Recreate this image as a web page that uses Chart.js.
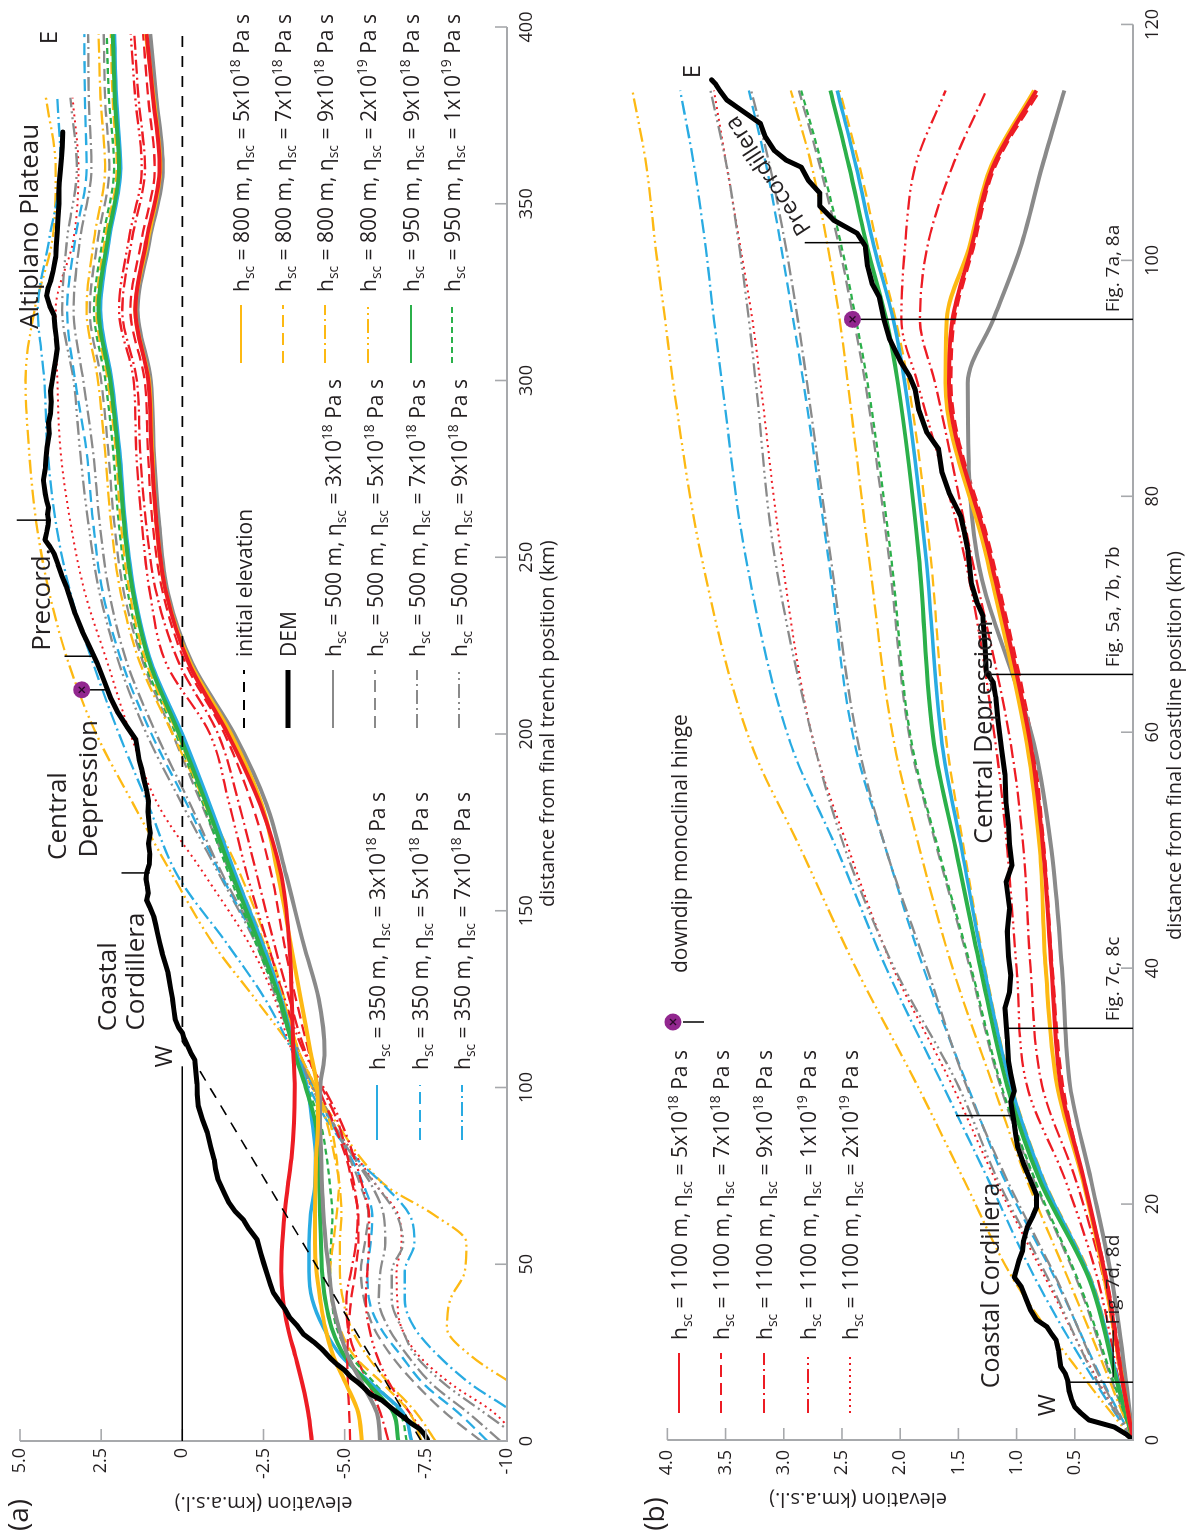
<!DOCTYPE html>
<html>
<head>
<meta charset="utf-8">
<script src="https://cdn.jsdelivr.net/npm/chart.js@4.4.1/dist/chart.umd.min.js"></script>
<style>
  html, body { margin: 0; padding: 0; background: #fff; }
  body { width: 1203px; height: 1537px; overflow: hidden; position: relative; }
  /* the figure is laid out landscape and turned a quarter turn */
  #sheet { position: absolute; left: 0; top: 0; width: 1537px; height: 1203px;
           transform-origin: 0 0; transform: translate(0px, 1537px) rotate(-90deg); }
  #pa { position: absolute; left: 0; top: 0; }
  #pb { position: absolute; left: 0; top: 600px; }
</style>
</head>
<body>
<div id="sheet">
  <canvas id="pa" width="1537" height="600"></canvas>
  <canvas id="pb" width="1537" height="603"></canvas>
</div>
<script>
// ================= panel (a): distance from final trench position =================
const distA = [0, 8, 16, 24, 32, 40, 48, 56, 64, 72, 80, 90, 100, 110, 125, 140, 160, 180, 200, 220, 240, 260, 280, 300, 320, 340, 360, 380, 398];

const a_1100_5e18 = [-3.99, -3.88, -3.70, -3.48, -3.25, -3.10, -3.05, -3.08, -3.15, -3.25, -3.36, -3.44, -3.46, -3.42, -3.37, -3.30, -3.05, -2.40, -1.40, -0.20, 0.50, 0.80, 0.95, 1.05, 1.45, 1.10, 0.70, 0.90, 1.10];
const a_1100_7e18 = [-5.17, -5.14, -5.10, -5.08, -5.12, -5.20, -5.33, -5.42, -5.42, -5.25, -5.05, -4.65, -4.20, -3.90, -3.50, -3.15, -2.75, -2.15, -1.30, -0.10, 0.60, 0.92, 1.06, 1.16, 1.60, 1.25, 0.85, 1.05, 1.21];
const a_1100_9e18 = [-6.35, -6.10, -5.75, -5.35, -5.10, -5.05, -5.20, -5.35, -5.40, -5.30, -5.10, -4.80, -4.30, -3.80, -3.30, -2.85, -2.30, -1.75, -1.10, 0.10, 0.80, 1.12, 1.30, 1.40, 1.85, 1.55, 1.15, 1.35, 1.48];
const a_1100_1e19 = [-7.60, -7.00, -6.40, -6.00, -5.75, -5.65, -5.70, -5.75, -5.75, -5.55, -5.30, -4.90, -4.35, -3.75, -3.15, -2.65, -2.00, -1.45, -0.85, 0.50, 1.00, 1.25, 1.42, 1.50, 1.95, 1.65, 1.25, 1.45, 1.59];
const a_1100_2e19 = [-10.4, -9.60, -8.30, -7.30, -6.75, -6.62, -6.60, -6.75, -6.65, -6.00, -5.40, -4.60, -4.00, -3.40, -2.85, -2.10, -0.70, 0.75, 1.60, 2.30, 3.00, 3.45, 3.75, 3.85, 3.90, 3.35, 3.20, 3.38, null];
const a_500_3e18 = [-6.09, -5.99, -5.55, -5.10, -4.82, -4.62, -4.52, -4.42, -4.35, -4.30, -4.28, -4.24, -4.25, -4.38, -4.20, -3.75, -3.20, -2.60, -1.60, -0.30, 0.45, 0.72, 0.88, 0.97, 1.38, 1.00, 0.60, 0.80, 0.99];
const a_500_5e18 = [-9.20, -8.10, -7.20, -6.45, -5.90, -5.60, -5.50, -5.62, -5.73, -5.50, -5.15, -4.65, -4.10, -3.60, -3.05, -2.35, -1.50, -0.60, 0.30, 1.20, 1.80, 2.10, 2.28, 2.50, 2.85, 2.60, 2.25, 2.38, 2.42];
const a_500_7e18 = [-9.80, -8.80, -7.70, -6.95, -6.35, -6.05, -6.10, -6.25, -6.20, -5.85, -5.30, -4.65, -4.05, -3.55, -3.00, -2.40, -1.25, -0.25, 0.80, 1.70, 2.25, 2.55, 2.75, 3.05, 3.35, 3.15, 2.80, 2.88, 2.90];
const a_500_9e18 = [-10.5, -9.30, -8.10, -7.20, -6.75, -6.45, -6.45, -6.80, -6.60, -6.00, -5.30, -4.60, -4.00, -3.50, -2.90, -2.30, -1.15, 0.00, 1.10, 1.95, 2.55, 2.90, 3.15, 3.35, 3.70, 3.55, 3.25, 3.45, null];
const a_350_3e18 = [-7.06, -6.80, -5.85, -4.90, -4.35, -4.00, -3.90, -3.90, -3.95, -4.08, -4.10, -4.00, -3.85, -3.50, -3.05, -2.50, -1.65, -0.85, 0.00, 0.95, 1.48, 1.76, 1.93, 2.17, 2.52, 2.25, 1.90, 2.03, 2.09];
const a_350_5e18 = [-9.40, -8.50, -7.45, -6.75, -6.10, -5.75, -5.70, -5.80, -5.85, -5.60, -5.20, -4.60, -4.05, -3.55, -3.00, -2.35, -1.20, -0.15, 0.95, 1.85, 2.45, 2.75, 2.95, 3.30, 3.55, 3.30, 2.95, 3.00, 3.02];
const a_350_7e18 = [-11.0, -10.2, -8.90, -7.90, -7.15, -6.85, -6.85, -7.15, -7.00, -6.25, -5.35, -4.50, -3.90, -3.40, -2.55, -1.43, 0.15, 1.05, 1.95, 2.75, 3.45, 3.90, 4.15, 4.25, 4.45, 4.10, 3.75, 3.85, null];
const a_800_5e18 = [-5.53, -5.42, -5.05, -4.65, -4.40, -4.25, -4.13, -4.09, -4.09, -4.10, -4.12, -4.18, -4.15, -3.95, -3.65, -3.35, -2.95, -2.45, -1.50, -0.25, 0.50, 0.80, 0.93, 1.03, 1.45, 1.06, 0.68, 0.88, 1.12];
const a_800_7e18 = [-7.37, -7.00, -6.20, -5.30, -4.85, -4.60, -4.55, -4.65, -4.75, -4.82, -4.75, -4.55, -4.10, -3.60, -3.10, -2.55, -1.65, -0.70, 0.15, 1.10, 1.62, 1.90, 2.05, 2.30, 2.65, 2.38, 2.02, 2.15, 2.20];
const a_800_9e18 = [-7.80, -7.20, -6.40, -5.70, -5.20, -4.95, -4.85, -4.85, -4.90, -4.85, -4.70, -4.45, -4.10, -3.60, -3.15, -2.65, -1.80, -0.75, 0.30, 1.30, 1.90, 2.20, 2.38, 2.60, 2.95, 2.72, 2.38, 2.52, 2.58];
const a_800_2e19 = [-12.0, -11.5, -10.2, -8.90, -8.15, -8.25, -8.70, -8.75, -7.75, -6.30, -5.50, -4.75, -4.00, -3.45, -2.25, -1.00, 0.30, 1.50, 2.65, 3.50, 4.10, 4.50, 4.72, 4.83, 4.55, 4.00, 3.90, 4.20, null];
const a_950_9e18 = [-6.65, -6.50, -5.75, -5.00, -4.60, -4.40, -4.30, -4.27, -4.24, -4.22, -4.19, -4.10, -3.80, -3.45, -3.00, -2.40, -1.55, -0.75, 0.10, 1.00, 1.52, 1.80, 1.98, 2.22, 2.58, 2.30, 1.95, 2.08, 2.14];
const a_950_1e19 = [-6.91, -6.70, -5.95, -5.20, -4.75, -4.60, -4.55, -4.58, -4.62, -4.55, -4.45, -4.25, -3.85, -3.45, -2.95, -2.30, -1.45, -0.65, 0.20, 1.15, 1.68, 1.96, 2.13, 2.37, 2.72, 2.45, 2.10, 2.26, 2.33];

const demDistA = [0.5, 2, 3.5, 5, 6.7, 8.5, 10, 11.5, 13.3, 15, 16.5, 18, 20, 21.7, 23.5, 26, 28, 30.2, 32.5, 35, 37.5, 40, 42, 44.3, 47, 50.5, 53, 57, 60, 62.7, 65, 67.5, 70, 74, 77, 79.6, 83, 87.2, 91, 94.8, 98, 101, 104, 107.9, 110, 112, 114, 115.5, 117, 119.2, 122, 125, 128, 132.4, 135, 138, 141, 143.8, 146, 148.4, 151, 153, 155, 157, 159, 160.7, 163, 166, 169, 172, 175, 178, 181, 184, 187, 190, 192.7, 195, 198.4, 202, 206, 210, 215.3, 220, 224.7, 229, 234, 238, 241.7, 245, 248, 251, 253, 254.9, 257, 259, 260.5, 262, 264, 266, 268, 271.8, 275, 278, 281, 285, 288, 290.7, 294, 297, 299.7, 303, 306, 309, 312, 315, 318.5, 321, 324, 326, 328, 331, 335, 338, 342, 346, 350, 353, 356, 359, 363, 366, 368, 370.3];
const demElevA = [-7.55, -7.45, -7.30, -7.05, -6.81, -6.55, -6.35, -6.15, -5.78, -5.60, -5.42, -5.20, -5.00, -4.76, -4.55, -4.30, -4.05, -3.73, -3.55, -3.30, -3.15, -2.95, -2.80, -2.71, -2.62, -2.50, -2.42, -2.30, -2.05, -1.87, -1.62, -1.43, -1.30, -1.10, -1.02, -0.98, -0.88, -0.77, -0.62, -0.49, -0.46, -0.45, -0.42, -0.38, -0.25, -0.15, -0.05, 0.00, 0.12, 0.22, 0.26, 0.30, 0.36, 0.44, 0.52, 0.62, 0.70, 0.77, 0.82, 0.88, 1.00, 1.10, 1.05, 1.08, 1.12, 1.10, 1.02, 1.00, 1.04, 0.99, 1.03, 1.06, 1.04, 1.10, 1.18, 1.25, 1.33, 1.37, 1.43, 1.70, 1.98, 2.20, 2.42, 2.62, 2.86, 3.08, 3.30, 3.44, 3.57, 3.72, 3.83, 3.95, 4.08, 4.23, 4.18, 4.14, 4.12, 4.15, 4.12, 4.18, 4.22, 4.28, 4.22, 4.20, 4.17, 4.10, 4.12, 4.06, 4.04, 4.06, 4.01, 3.95, 3.90, 3.85, 3.88, 3.92, 3.95, 4.08, 4.18, 4.14, 4.06, 3.98, 3.90, 3.88, 3.85, 3.83, 3.80, 3.81, 3.79, 3.76, 3.72, 3.70, 3.69, 3.68];

const initDistA = [0, 113, 400];
const initElevA = [-7.36, 0, 0];

const elevTicksA = [5, 2.5, 0, -2.5, -5, -7.5, -10];
const distTicksA = [0, 50, 100, 150, 200, 250, 300, 350, 400];

// ================= panel (b): distance from final coastline position =================
const distB = [0, 5, 13.5, 22, 30, 40, 50, 59, 75, 89.6, 95, 101, 108, 114.4];

const b_800_2e19 = [0, 0.40, 1.02, 1.45, 1.85, 2.38, 2.85, 3.28, 3.71, 3.95, 4.02, 4.10, 4.18, 4.30];
const b_350_7e18 = [0, 0.33, 0.83, 1.24, 1.63, 2.12, 2.54, 2.94, 3.33, 3.53, 3.60, 3.67, 3.77, 3.89];
const b_1100_2e19 = [0, 0.30, 0.74, 1.18, 1.55, 2.06, 2.44, 2.74, 3.02, 3.20, 3.27, 3.37, 3.49, 3.60];
const b_500_9e18 = [0, 0.31, 0.72, 1.16, 1.50, 2.05, 2.47, 2.74, 3.08, 3.24, 3.30, 3.38, 3.49, 3.63];
const b_350_5e18 = [0, 0.26, 0.66, 1.10, 1.42, 1.80, 2.12, 2.39, 2.62, 2.83, 2.92, 3.02, 3.15, 3.30];
const b_500_7e18 = [0, 0.27, 0.65, 1.08, 1.43, 1.77, 2.12, 2.36, 2.60, 2.80, 2.88, 2.98, 3.12, 3.28];
const b_800_9e18 = [0, 0.20, 0.55, 0.91, 1.20, 1.55, 1.83, 2.05, 2.27, 2.45, 2.52, 2.62, 2.76, 2.94];
const b_950_1e19 = [0, 0.17, 0.47, 0.84, 1.13, 1.39, 1.67, 1.90, 2.08, 2.28, 2.38, 2.50, 2.67, 2.85];
const b_500_5e18 = [0, 0.18, 0.48, 0.85, 1.14, 1.40, 1.68, 1.91, 2.10, 2.30, 2.40, 2.52, 2.69, 2.87];
const b_950_9e18 = [0, 0.14, 0.37, 0.80, 1.08, 1.31, 1.52, 1.71, 1.84, 2.02, 2.12, 2.28, 2.44, 2.60];
const b_350_3e18 = [0, 0.13, 0.36, 0.77, 1.05, 1.28, 1.47, 1.64, 1.78, 1.96, 2.06, 2.22, 2.38, 2.54];
const b_800_7e18 = [0, 0.13, 0.35, 0.76, 1.04, 1.27, 1.45, 1.60, 1.74, 1.93, 2.04, 2.19, 2.35, 2.52];
const b_1100_1e19 = [0, 0.12, 0.30, 0.58, 0.91, 1.00, 1.08, 1.18, 1.45, 1.85, 1.99, 1.96, 1.87, 1.61];
const b_1100_9e18 = [0, 0.10, 0.25, 0.49, 0.78, 0.88, 0.94, 1.05, 1.39, 1.70, 1.83, 1.77, 1.55, 1.26];
const b_1100_7e18 = [0, 0.08, 0.22, 0.42, 0.60, 0.69, 0.76, 0.86, 1.21, 1.56, 1.53, 1.37, 1.18, 0.80];
const b_800_5e18 = [0, 0.09, 0.24, 0.43, 0.65, 0.75, 0.80, 0.91, 1.26, 1.61, 1.60, 1.41, 1.22, 0.85];
const b_1100_5e18 = [0, 0.09, 0.23, 0.42, 0.62, 0.70, 0.77, 0.88, 1.23, 1.58, 1.55, 1.39, 1.20, 0.83];
const b_500_3e18 = [0, 0.06, 0.18, 0.36, 0.54, 0.61, 0.70, 0.85, 1.34, 1.42, 1.20, 0.97, 0.78, 0.59];

const demDistB = [0, 0.5, 1.1, 1.7, 2.3, 2.8, 3.5, 4.2, 5.0, 5.6, 6.2, 6.8, 7.6, 8.45, 9.0, 9.6, 10.2, 11.0, 12.0, 13.0, 13.8, 14.5, 15.2, 16.0, 16.9, 18.0, 19.0, 19.7, 20.8, 22.0, 23.4, 24.8, 26.0, 26.8, 28.0, 28.7, 29.6, 31, 32.1, 34, 36.6, 38, 39.4, 41, 43.1, 45, 47.3, 48.7, 50.5, 52.1, 54, 56.4, 58.6, 61, 63, 64.2, 65.1, 67, 69.9, 71, 72.7, 75.5, 77, 78.3, 80.3, 82, 84, 85.4, 87.3, 89, 90.2, 91.3, 93.3, 95, 96.9, 98, 99.5, 101.2, 102.3, 103.4, 104.6, 105.7, 106.8, 107.9, 108.5, 109.3, 110.5, 111.6, 112.7, 113.6, 114.4, 115.0, 115.3];
const demElevB = [0, 0.06, 0.16, 0.38, 0.45, 0.50, 0.53, 0.55, 0.56, 0.58, 0.62, 0.63, 0.64, 0.66, 0.70, 0.74, 0.83, 0.88, 0.92, 0.96, 1.02, 1.00, 0.98, 0.95, 0.94, 0.91, 0.86, 0.83, 0.83, 0.88, 0.94, 0.99, 1.01, 1.02, 1.04, 1.05, 1.02, 1.05, 1.07, 1.08, 1.10, 1.06, 1.05, 1.07, 1.08, 1.06, 1.09, 1.04, 1.06, 1.07, 1.09, 1.10, 1.13, 1.16, 1.18, 1.20, 1.26, 1.27, 1.29, 1.34, 1.39, 1.42, 1.45, 1.48, 1.58, 1.64, 1.67, 1.77, 1.84, 1.87, 1.92, 1.99, 2.09, 2.14, 2.18, 2.24, 2.28, 2.30, 2.37, 2.57, 2.69, 2.69, 2.79, 2.85, 2.98, 3.08, 3.16, 3.20, 3.36, 3.49, 3.55, 3.59, 3.62];

const elevTicksB = [0, 0.5, 1, 1.5, 2, 2.5, 3, 3.5, 4];
const distTicksB = [0, 20, 40, 60, 80, 100, 120];

// ================= styling =================
const FONT = '"Open Sans", "Noto Sans", "DejaVu Sans", sans-serif';
const INK = '#231f20';
const AXIS = '#a7a9ac';
const RED = '#ed1c24', GRAY = '#8a8a8a', YELLOW = '#fdb913', GREEN = '#2bb04a', BLUE = '#29abe2', PURPLE = '#92278f';
const SOLID = [], DASH = [12, 6], DASHDOT = [14, 4, 2, 4], DASHDOTDOT = [14, 4, 2, 4, 2, 4], DOT = [2, 4], SHORTDASH = [6, 4];

const MODEL_STYLE = {
  '500_3e18':  { color: GRAY,   dash: SOLID,      w: 4 },
  '500_5e18':  { color: GRAY,   dash: DASH,       w: 2.3 },
  '500_7e18':  { color: GRAY,   dash: DASHDOT,    w: 2.3 },
  '500_9e18':  { color: GRAY,   dash: DASHDOTDOT, w: 2.3 },
  '350_3e18':  { color: BLUE,   dash: SOLID,      w: 3.5 },
  '350_5e18':  { color: BLUE,   dash: DASH,       w: 2.3 },
  '350_7e18':  { color: BLUE,   dash: DASHDOT,    w: 2.3 },
  '800_5e18':  { color: YELLOW, dash: SOLID,      w: 4 },
  '800_7e18':  { color: YELLOW, dash: DASH,       w: 2.3 },
  '800_9e18':  { color: YELLOW, dash: DASHDOT,    w: 2.3 },
  '800_2e19':  { color: YELLOW, dash: DASHDOTDOT, w: 2.3 },
  '950_9e18':  { color: GREEN,  dash: SOLID,      w: 4 },
  '950_1e19':  { color: GREEN,  dash: SHORTDASH,  w: 2.3 },
  '1100_5e18': { color: RED,    dash: SOLID,      w: 4 },
  '1100_7e18': { color: RED,    dash: DASH,       w: 2.3 },
  '1100_9e18': { color: RED,    dash: DASHDOT,    w: 2.3 },
  '1100_1e19': { color: RED,    dash: DASHDOTDOT, w: 2.3 },
  '1100_2e19': { color: RED,    dash: DOT,        w: 2 }
};

const SERIES_A = {
  '1100_5e18': a_1100_5e18, '1100_7e18': a_1100_7e18, '1100_9e18': a_1100_9e18, '1100_1e19': a_1100_1e19, '1100_2e19': a_1100_2e19,
  '500_3e18': a_500_3e18, '500_5e18': a_500_5e18, '500_7e18': a_500_7e18, '500_9e18': a_500_9e18,
  '350_3e18': a_350_3e18, '350_5e18': a_350_5e18, '350_7e18': a_350_7e18,
  '800_5e18': a_800_5e18, '800_7e18': a_800_7e18, '800_9e18': a_800_9e18, '800_2e19': a_800_2e19,
  '950_9e18': a_950_9e18, '950_1e19': a_950_1e19
};
const SERIES_B = {
  '1100_5e18': b_1100_5e18, '1100_7e18': b_1100_7e18, '1100_9e18': b_1100_9e18, '1100_1e19': b_1100_1e19, '1100_2e19': b_1100_2e19,
  '500_3e18': b_500_3e18, '500_5e18': b_500_5e18, '500_7e18': b_500_7e18, '500_9e18': b_500_9e18,
  '350_3e18': b_350_3e18, '350_5e18': b_350_5e18, '350_7e18': b_350_7e18,
  '800_5e18': b_800_5e18, '800_7e18': b_800_7e18, '800_9e18': b_800_9e18, '800_2e19': b_800_2e19,
  '950_9e18': b_950_9e18, '950_1e19': b_950_1e19
};

// first in the list is painted last (on top)
const DRAW_ORDER = ['1100_5e18', '800_5e18', '500_3e18', '1100_7e18', '950_9e18', '350_3e18', '800_7e18', '950_1e19',
  '1100_9e18', '1100_1e19', '800_9e18', '500_5e18', '500_7e18', '350_5e18', '500_9e18', '1100_2e19', '350_7e18', '800_2e19'];

function pts(xs, ys) {
  const out = [];
  xs.forEach((x, i) => { if (ys[i] !== null && ys[i] !== undefined) out.push({ x: x, y: ys[i] }); });
  return out;
}

function buildDatasets(dist, table, demD, demE, initD, initE) {
  const ds = [{
    data: pts(demD, demE), borderColor: '#000', borderWidth: 5, borderDash: [], tension: 0,
    borderJoinStyle: 'round', borderCapStyle: 'round'
  }];
  if (initD) ds.push({ data: pts(initD, initE), borderColor: '#000', borderWidth: 1.6, borderDash: [11, 9], tension: 0 });
  DRAW_ORDER.forEach(k => {
    const st = MODEL_STYLE[k];
    ds.push({ data: pts(dist, table[k]), borderColor: st.color, borderWidth: st.w, borderDash: st.dash,
      cubicInterpolationMode: 'monotone', borderJoinStyle: 'round' });
  });
  return ds;
}

// ---------- text helpers ----------
function parseKey(k) {
  const [h, v] = k.split('_');
  return { h: h, m: v.split('e')[0], p: v.split('e')[1] };
}
function modelParts(k) {
  const q = parseKey(k);
  return [{ t: 'h' }, { t: 'sc', sub: true }, { t: ' = ' + q.h + ' m, ' }, { t: 'η' }, { t: 'sc', sub: true },
          { t: ' = ' + q.m + 'x10' }, { t: q.p, sup: true }, { t: ' Pa s' }];
}
function rich(ctx, x, y, parts, size) {
  let cx = x;
  ctx.textAlign = 'left';
  ctx.textBaseline = 'alphabetic';
  parts.forEach(p => {
    let fs = size, dy = 0;
    if (p.sub) { fs = size * 0.66; dy = size * 0.27; }
    if (p.sup) { fs = size * 0.66; dy = -size * 0.42; }
    ctx.font = fs + 'px ' + FONT;
    ctx.fillText(p.t, cx, y + dy);
    cx += ctx.measureText(p.t).width;
  });
}
function text(ctx, s, x, y, size, opts) {
  opts = opts || {};
  ctx.save();
  ctx.translate(x, y);
  if (opts.rot) ctx.rotate(opts.rot * Math.PI / 180);
  ctx.font = size + 'px ' + FONT;
  ctx.fillStyle = INK;
  ctx.textAlign = opts.align || 'center';
  ctx.textBaseline = 'middle';
  ctx.fillText(s, 0, 0);
  ctx.restore();
}
function seg(ctx, x0, y0, x1, y1, color, w, dash) {
  ctx.save();
  ctx.strokeStyle = color; ctx.lineWidth = w; ctx.setLineDash(dash || []);
  ctx.beginPath(); ctx.moveTo(x0, y0); ctx.lineTo(x1, y1); ctx.stroke();
  ctx.restore();
}
function hinge(ctx, x, y) {
  ctx.save();
  ctx.fillStyle = PURPLE;
  ctx.beginPath(); ctx.arc(x, y, 8.5, 0, Math.PI * 2); ctx.fill();
  ctx.strokeStyle = '#2a0a28'; ctx.lineWidth = 1.3;
  ctx.beginPath(); ctx.moveTo(x - 3, y - 3); ctx.lineTo(x + 3, y + 3); ctx.moveTo(x + 3, y - 3); ctx.lineTo(x - 3, y + 3); ctx.stroke();
  ctx.restore();
}
function drawAxes(chart, c) {
  const { x, y } = chart.scales, ctx = chart.ctx;
  const x0 = x.getPixelForValue(c.xmin), x1 = x.getPixelForValue(c.xmax);
  const y0 = y.getPixelForValue(c.ymin), y1 = y.getPixelForValue(c.ymax);
  ctx.save();
  ctx.strokeStyle = AXIS; ctx.lineWidth = 2; ctx.setLineDash([]);
  ctx.beginPath(); ctx.moveTo(x0, y1); ctx.lineTo(x0, y0); ctx.lineTo(x1, y0); ctx.stroke();
  ctx.lineWidth = 1.6;
  c.xt.forEach(v => { const p = x.getPixelForValue(v); ctx.beginPath(); ctx.moveTo(p, y0); ctx.lineTo(p, y0 - 12); ctx.stroke(); });
  c.yt.forEach(v => { const p = y.getPixelForValue(v); ctx.beginPath(); ctx.moveTo(x0, p); ctx.lineTo(x0 + 12, p); ctx.stroke(); });
  ctx.restore();
}
function legendRow(ctx, style, sx0, sx1, tx, y, parts, size) {
  seg(ctx, sx0, y, sx1, y, style.color, style.lw || 1.8, style.dash);
  ctx.fillStyle = INK;
  rich(ctx, tx, y + size * 0.36, parts, size);
}

const LEG = 21;

// ---------- panel (a) decorations ----------
const regionLabelsA = [
  { t: 'E', d: 397, e: 4.06, s: 24 },
  { t: 'Altiplano Plateau', d: 343.6, e: 4.68, s: 26 },
  { t: 'Precord.', d: 238, e: 4.31, s: 26 },
  { t: 'Central', d: 176.8, e: 3.82, s: 26 },
  { t: 'Depression', d: 184.5, e: 2.86, s: 26 },
  { t: 'Coastal', d: 128.5, e: 2.28, s: 26 },
  { t: 'Cordillera', d: 132.8, e: 1.42, s: 26 },
  { t: 'W', d: 108.8, e: 0.52, s: 24 }
];
const boundaryTicksA = [ { d: 260.5, e0: 5.1, e1: 4.12 }, { d: 222, e0: 3.63, e1: 2.72 }, { d: 160.7, e0: 1.87, e1: 1.0 } ];
const hingeA = { d: 212.5, e: 3.1, to: 2.25 };
const seaLevelA = { from: 0, to: 106, e: 0 };

const decoA = {
  id: 'decoA',
  afterDraw(chart) {
    const ctx = chart.ctx, { x, y } = chart.scales;
    drawAxes(chart, { xmin: 0, xmax: 400, ymin: -10, ymax: 5, xt: distTicksA, yt: elevTicksA });
    seg(ctx, x.getPixelForValue(seaLevelA.from), y.getPixelForValue(0), x.getPixelForValue(seaLevelA.to), y.getPixelForValue(0), '#000', 1.5);
    boundaryTicksA.forEach(b => seg(ctx, x.getPixelForValue(b.d), y.getPixelForValue(b.e0), x.getPixelForValue(b.d), y.getPixelForValue(b.e1), '#000', 1.5));
    seg(ctx, x.getPixelForValue(hingeA.d), y.getPixelForValue(hingeA.e), x.getPixelForValue(hingeA.d), y.getPixelForValue(hingeA.to), '#000', 1.5);
    hinge(ctx, x.getPixelForValue(hingeA.d), y.getPixelForValue(hingeA.e));
    regionLabelsA.forEach(l => text(ctx, l.t, x.getPixelForValue(l.d), y.getPixelForValue(l.e), l.s));

    // legend: 350 m group
    [['350_3e18', 377], ['350_5e18', 420], ['350_7e18', 462]].forEach(([k, yy]) =>
      legendRow(ctx, MODEL_STYLE[k], 397, 452, 467, yy, modelParts(k), LEG));
    // legend: reference lines and 500 m group
    legendRow(ctx, { color: '#000', dash: [10, 8], lw: 1.8 }, 809, 867, 880, 244, [{ t: 'initial elevation' }], LEG);
    legendRow(ctx, { color: '#000', dash: [], lw: 5 }, 809, 867, 880, 288, [{ t: 'DEM' }], LEG);
    [['500_3e18', 333], ['500_5e18', 375], ['500_7e18', 417], ['500_9e18', 459]].forEach(([k, yy]) =>
      legendRow(ctx, MODEL_STYLE[k], 809, 867, 880, yy, modelParts(k), LEG));
    // legend: 800 m and 950 m groups
    [['800_5e18', 241], ['800_7e18', 283], ['800_9e18', 325], ['800_2e19', 368], ['950_9e18', 411], ['950_1e19', 452]].forEach(([k, yy]) =>
      legendRow(ctx, MODEL_STYLE[k], 1174, 1232, 1245, yy, modelParts(k), LEG));

    // titles
    text(ctx, '(a)', 22, 20, 28);
    text(ctx, 'elevation (km.a.s.l.)', 34, (chart.chartArea.top + chart.chartArea.bottom) / 2, 20, { rot: -90 });
    text(ctx, 'distance from final trench position (km)', 630, 548, 20, { align: 'left' });
  }
};

// ---------- panel (b) decorations ----------
const regionLabelsB = [
  { t: 'E', d: 116, e: 3.78, s: 24 },
  { t: 'Precordillera', d: 107.2, e: 3.13, s: 23, rot: -33.3 },
  { t: 'Central Depression', d: 60, e: 1.27, s: 25 },
  { t: 'Coastal Cordillera', d: 13.1, e: 1.21, s: 25 },
  { t: 'W', d: 2.96, e: 0.73, s: 24 }
];
const boundaryTicksB = [ { d: 101.5, e0: 2.82, e1: 2.30 }, { d: 27.5, e0: 1.52, e1: 1.04 } ];
const figLinesB = [
  { d: 95, top: 2.41, label: 'Fig. 7a, 8a', at: 95.6 },
  { d: 64.9, top: 1.25, label: 'Fig. 5a, 7b, 7b', at: 65.5 },
  { d: 34.9, top: 1.08, label: 'Fig. 7c, 8c', at: 35.5 },
  { d: 4.9, top: 0.57, label: 'Fig. 7d, 8d', at: 9.8, lead: [5.3, 9.3] }
];
const hingeB = { d: 95, e: 2.41 };

const decoB = {
  id: 'decoB',
  afterDraw(chart) {
    const ctx = chart.ctx, { x, y } = chart.scales;
    drawAxes(chart, { xmin: 0, xmax: 120, ymin: 0, ymax: 4, xt: distTicksB, yt: elevTicksB });
    figLinesB.forEach(f => {
      const px = x.getPixelForValue(f.d);
      seg(ctx, px, y.getPixelForValue(f.top), px, y.getPixelForValue(0), '#000', 1.5);
      const ly = y.getPixelForValue(0.17);
      if (f.lead) seg(ctx, x.getPixelForValue(f.lead[0]), ly, x.getPixelForValue(f.lead[1]), ly, '#000', 1.3);
      text(ctx, f.label, x.getPixelForValue(f.at), ly, 19, { align: 'left' });
    });
    boundaryTicksB.forEach(b => seg(ctx, x.getPixelForValue(b.d), y.getPixelForValue(b.e0), x.getPixelForValue(b.d), y.getPixelForValue(b.e1), '#000', 1.5));
    hinge(ctx, x.getPixelForValue(hingeB.d), y.getPixelForValue(hingeB.e));
    regionLabelsB.forEach(l => text(ctx, l.t, x.getPixelForValue(l.d), y.getPixelForValue(l.e), l.s, { rot: l.rot || 0 }));

    // legend: 1100 m group
    [['1100_5e18', 79], ['1100_7e18', 121], ['1100_9e18', 164], ['1100_1e19', 208], ['1100_2e19', 250]].forEach(([k, yy]) =>
      legendRow(ctx, MODEL_STYLE[k], 124, 184, 197, yy, modelParts(k), LEG));
    hinge(ctx, 515, 73);
    seg(ctx, 515, 83, 515, 104, '#000', 1.5);
    text(ctx, 'downdip monoclinal hinge', 564, 81, LEG, { align: 'left' });

    text(ctx, '(b)', 23, 56, 28);
    text(ctx, 'elevation (km.a.s.l.)', 38, 258, 20, { rot: -90 });
    text(ctx, 'distance from final coastline position (km)', 597, 575, 20, { align: 'left' });
  }
};

// ---------- chart factory ----------
function options(o) {
  return {
    responsive: false, animation: false, devicePixelRatio: 1,
    layout: { padding: o.pad },
    plugins: { legend: { display: false }, tooltip: { enabled: false } },
    elements: { point: { radius: 0 } },
    scales: {
      x: {
        type: 'linear', min: o.xmin, max: o.xmax,
        grid: { display: false, drawTicks: false }, border: { display: false },
        afterFit(s) { s.height = o.xh; },
        afterBuildTicks(s) { s.ticks = o.xt.map(v => ({ value: v })); },
        ticks: { padding: 9, autoSkip: false, maxRotation: 0, color: INK, font: { size: 18, family: FONT }, callback: v => String(v) }
      },
      y: {
        type: 'linear', min: o.ymin, max: o.ymax,
        grid: { display: false, drawTicks: false }, border: { display: false },
        afterFit(s) { s.width = o.yw; },
        afterBuildTicks(s) { s.ticks = o.yt.map(v => ({ value: v })); },
        ticks: { padding: o.ypad, autoSkip: false, color: INK, font: { size: 18, family: FONT }, callback: o.yfmt }
      }
    }
  };
}

new Chart(document.getElementById('pa'), {
  type: 'line',
  data: { datasets: buildDatasets(distA, SERIES_A, demDistA, demElevA, initDistA, initElevA) },
  options: options({
    pad: { left: 0, right: 27, top: 20, bottom: 0 }, xh: 93, yw: 96, ypad: 7,
    xmin: 0, xmax: 400, ymin: -10, ymax: 5, xt: distTicksA, yt: elevTicksA,
    yfmt: v => (v === 0 ? '0' : (v === -10 ? '-10' : v.toFixed(1)))
  }),
  plugins: [decoA]
});

new Chart(document.getElementById('pb'), {
  type: 'line',
  data: { datasets: buildDatasets(distB, SERIES_B, demDistB, demElevB, null, null) },
  options: options({
    pad: { left: 0, right: 20, top: 2, bottom: 0 }, xh: 70, yw: 97, ypad: 10,
    xmin: 0, xmax: 120, ymin: 0, ymax: 4.4, xt: distTicksB, yt: elevTicksB,
    yfmt: v => (v === 0 ? '' : v.toFixed(1))
  }),
  plugins: [decoB]
});
</script>
</body>
</html>
